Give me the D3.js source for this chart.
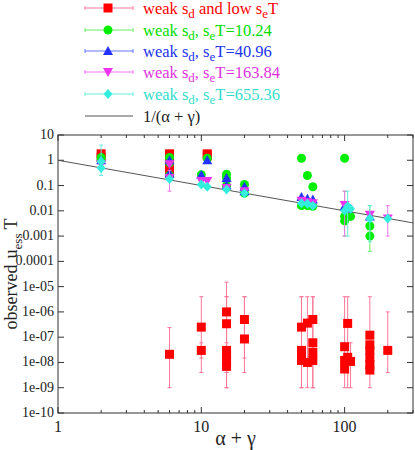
<!DOCTYPE html>
<html><head><meta charset="utf-8">
<script src="https://cdn.jsdelivr.net/npm/d3@7"></script>
<style>body{margin:0;background:#fff}svg{display:block}svg text{font-family:"Liberation Serif","Times New Roman","DejaVu Serif",serif}</style>
</head><body><svg id="c" width="415" height="450"></svg>
<script>
// [x, y, errLow, errHigh]
const redPts = [
 [2,1.8],[2,1.3],[6,1.8],[6,1.3],[6,0.9],[6,0.6],[6,0.4],[11,1.8],[11,1.5],
 [6,2.1e-8,1e-9,2.4e-7],[10,2.5e-7,4e-9,4e-6],[10,3e-8,1.5e-8,6e-8],
 [15,1e-6,1e-9,1.5e-5],[15,3.4e-7,4e-9,4e-6],[15,3e-8,4e-9,4e-6],[15,2e-8],[15,1.2e-8],[15,7e-9,1e-9,6e-8],
 [20,5e-7,4e-9,4e-6],[20,8.5e-8,1.5e-8,4e-6],
 [50,2.5e-7,1e-9,4e-6],[50,3e-8],[50,2e-8],[50,1.2e-8,1e-9,4e-6],
 [55,3.6e-7,1e-9,4e-6],[55,1e-8],
 [60,5e-7,1e-9,4e-6],[60,6e-8],[60,2.5e-8],[60,1.2e-8,1e-9,4e-6],
 [100,4.2e-8,1e-9,4e-6],[100,1.2e-8],[100,5.5e-9],
 [105,3.5e-7,1e-9,4e-6],[105,1.6e-8],[110,1.1e-8,1e-9,6e-8],
 [150,1.2e-7,1e-9,4e-6],[150,5e-8],[150,3e-8],[150,1.5e-8],[150,8e-9],[150,5e-9],
 [200,3e-8,4e-9,1e-6]
];
const greenPts = [
 [2,1.3],[2,1.0],[6,1.3],[6,0.8],[6,0.25],[10,0.27],[11,1.2],[15,0.28],[15,0.2],[15,0.1],
 [20,0.11],[20,0.05],[50,1.2],[55,0.25],[60,0.09],[50,0.016],[55,0.016],[60,0.015],
 [100,1.2],[100,0.004,0.001,0.06],[100,0.006],[105,0.008],[110,0.006],
 [150,0.0025,0.00025,0.016],[150,0.001]
];
const bluePts = [
 [2,1.0],[6,1.0],[6,0.3],[10,0.26],[11,1.0],[15,0.2],[15,0.1],[20,0.09],[20,0.06],
 [50,0.035],[55,0.03],[60,0.028],[100,0.015],[105,0.012],[150,0.006]
];
const magentaPts = [
 [2,0.7],[6,0.7],[6,0.2,0.06,0.4],[10,0.15],[11,0.15],[15,0.08],[20,0.06],
 [50,0.025],[55,0.022],[60,0.02],[100,0.017,0.001,0.06],[105,0.012],[150,0.007],[200,0.005,0.001,0.016]
];
const cyanPts = [
 [2,0.9,0.25,4],[2,0.5],[6,0.18],[10,0.11],[11,0.09],[15,0.07],[20,0.05],
 [50,0.02],[55,0.019],[60,0.016],[100,0.01],[105,0.015,0.001,0.06],[110,0.012],
 [150,0.005,0.0006,0.016],[200,0.005]
];
const yTickLabels = ["10","1","0.1","0.01","0.001","0.0001","1e-05","1e-06","1e-07","1e-08","1e-09","1e-10"];
const xTickLabels = ["1","10","100"];
const lineX = [1, 300];

const series = [
 {pts:redPts, shape:"square", color:"#ff0000", err:"#ff7799", text:"#ff0000", name:["weak s","d"," and low s","e","T"]},
 {pts:greenPts, shape:"circle", color:"#00ee00", err:"#66ee66", text:"#00dd00", name:["weak s","d",", s","e","T=10.24"]},
 {pts:bluePts, shape:"triangle", color:"#2233ff", err:"#6677ff", text:"#2233ee", name:["weak s","d",", s","e","T=40.96"]},
 {pts:magentaPts, shape:"tridown", color:"#ee33ee", err:"#ee77ee", text:"#dd33dd", name:["weak s","d",", s","e","T=163.84"]},
 {pts:cyanPts, shape:"diamond", color:"#33eedd", err:"#66eedd", text:"#33ddcc", name:["weak s","d",", s","e","T=655.36"]}
];

const svg = d3.select("#c");
const L=58, R=413, T=135, B=413;
const x = d3.scaleLog().domain([1,300]).range([L,R]);
const y = d3.scaleLog().domain([1e-10,10]).range([B,T]);

function shapePath(s, size){
  const h=size/2;
  if(s==="square") return `M${-h},${-h}h${size}v${size}h${-size}Z`;
  if(s==="circle") return d3.symbol(d3.symbolCircle, Math.PI*h*h)();
  if(s==="triangle") return `M0,${-h-0.5}L${h+0.5},${h-0.5}L${-h-0.5},${h-0.5}Z`;
  if(s==="tridown") return `M0,${h+0.5}L${h+0.5},${-h+0.5}L${-h-0.5},${-h+0.5}Z`;
  if(s==="diamond") return `M0,${-h-0.5}L${h},0L0,${h+0.5}L${-h},0Z`;
}

svg.append("rect").attr("x",L).attr("y",T).attr("width",R-L).attr("height",B-T)
  .attr("fill","none").attr("stroke","#333").attr("stroke-width",1);

const xMajor=[1,10,100];
const xMinor=[];
for(let d=1; d<=100; d*=10) for(let k=2;k<=9;k++){ if(d*k<=300) xMinor.push(d*k); }
const gx = svg.append("g");
xMajor.concat(xMinor).forEach(v=>{
  const len = xMajor.includes(v)?6:3;
  gx.append("line").attr("x1",x(v)).attr("x2",x(v)).attr("y1",B).attr("y2",B-len).attr("stroke","#333");
  gx.append("line").attr("x1",x(v)).attr("x2",x(v)).attr("y1",T).attr("y2",T+len).attr("stroke","#333");
});
xMajor.forEach((v,i)=>{
  gx.append("text").attr("x",x(v)).attr("y",B+19).attr("text-anchor","middle")
    .attr("font-size",16).attr("fill","#222").text(xTickLabels[i]);
});
const yMajor = d3.range(1,-11,-1).map(e=>Math.pow(10,e));
yMajor.forEach((v,i)=>{
  svg.append("line").attr("x1",L).attr("x2",L+6).attr("y1",y(v)).attr("y2",y(v)).attr("stroke","#333");
  svg.append("line").attr("x1",R).attr("x2",R-6).attr("y1",y(v)).attr("y2",y(v)).attr("stroke","#333");
  svg.append("text").attr("x",L-4).attr("y",y(v)+4).attr("text-anchor","end")
    .attr("font-size",14).attr("fill","#222").text(yTickLabels[i]);
});

svg.append("text").attr("x",x(Math.sqrt(300))).attr("y",445).attr("text-anchor","middle")
  .attr("font-size",20).attr("fill","#222").text("α + γ");

// y title: separate text pieces inside a rotated group
const ytg = svg.append("g");
const parts = [["observed",18,0],["u",18,0],["ess",13,5],["T",18,0]];
const gaps = [0,6,0,4];
let cx = 0;
parts.forEach((p,i)=>{
  cx += gaps[i];
  const t = ytg.append("text").attr("x",cx).attr("y",p[2]).attr("font-size",p[1]).attr("fill","#222").text(p[0]);
  cx += t.node().getComputedTextLength();
});
const total = cx;
ytg.attr("transform",`translate(17,${(T+B)/2}) rotate(-90) translate(${-total/2},0)`);

svg.append("clipPath").attr("id","clp").append("rect")
  .attr("x",L).attr("y",T).attr("width",R-L).attr("height",B-T);
const plot = svg.append("g").attr("clip-path","url(#clp)");

plot.append("line").attr("x1",x(lineX[0])).attr("y1",y(1/lineX[0]))
  .attr("x2",x(lineX[1])).attr("y2",y(1/lineX[1])).attr("stroke","#555").attr("stroke-width",1);

series.forEach(s=>{
  const g = plot.append("g");
  s.pts.filter(p=>p.length>2).forEach(p=>{
    const px=x(p[0]);
    g.append("line").attr("x1",px).attr("x2",px).attr("y1",y(p[2])).attr("y2",y(p[3])).attr("stroke",s.err).attr("stroke-width",1);
    [p[2],p[3]].forEach(v=>g.append("line").attr("x1",px-2).attr("x2",px+2).attr("y1",y(v)).attr("y2",y(v)).attr("stroke",s.err));
  });
  s.pts.forEach(p=>{
    g.append("path").attr("d",shapePath(s.shape,9)).attr("transform",`translate(${x(p[0])},${y(p[1])})`)
      .attr("fill",s.color);
  });
});

const leg = svg.append("g");
const rows = [8,30,51,72,94];
series.forEach((s,i)=>{
  const yy=rows[i];
  leg.append("line").attr("x1",85).attr("x2",133).attr("y1",yy).attr("y2",yy).attr("stroke",s.err);
  [85,133].forEach(xx=>leg.append("line").attr("x1",xx).attr("x2",xx).attr("y1",yy-2).attr("y2",yy+2).attr("stroke",s.err));
  leg.append("path").attr("d",shapePath(s.shape,9)).attr("transform",`translate(108,${yy})`).attr("fill",s.color);
  const t = leg.append("text").attr("x",143).attr("y",yy+6).attr("font-size",16.5).attr("fill",s.text);
  t.append("tspan").text(s.name[0]);
  t.append("tspan").attr("font-size",13).attr("dy",4).text(s.name[1]);
  t.append("tspan").attr("dy",-4).text(s.name[2]);
  t.append("tspan").attr("font-size",13).attr("dy",4).text(s.name[3]);
  t.append("tspan").attr("dy",-4).text(s.name[4]);
});
leg.append("line").attr("x1",85).attr("x2",133).attr("y1",116).attr("y2",116).attr("stroke","#555");
leg.append("text").attr("x",143).attr("y",122).attr("font-size",16.5).attr("fill","#222").text("1/(α + γ)");
</script></body></html>
